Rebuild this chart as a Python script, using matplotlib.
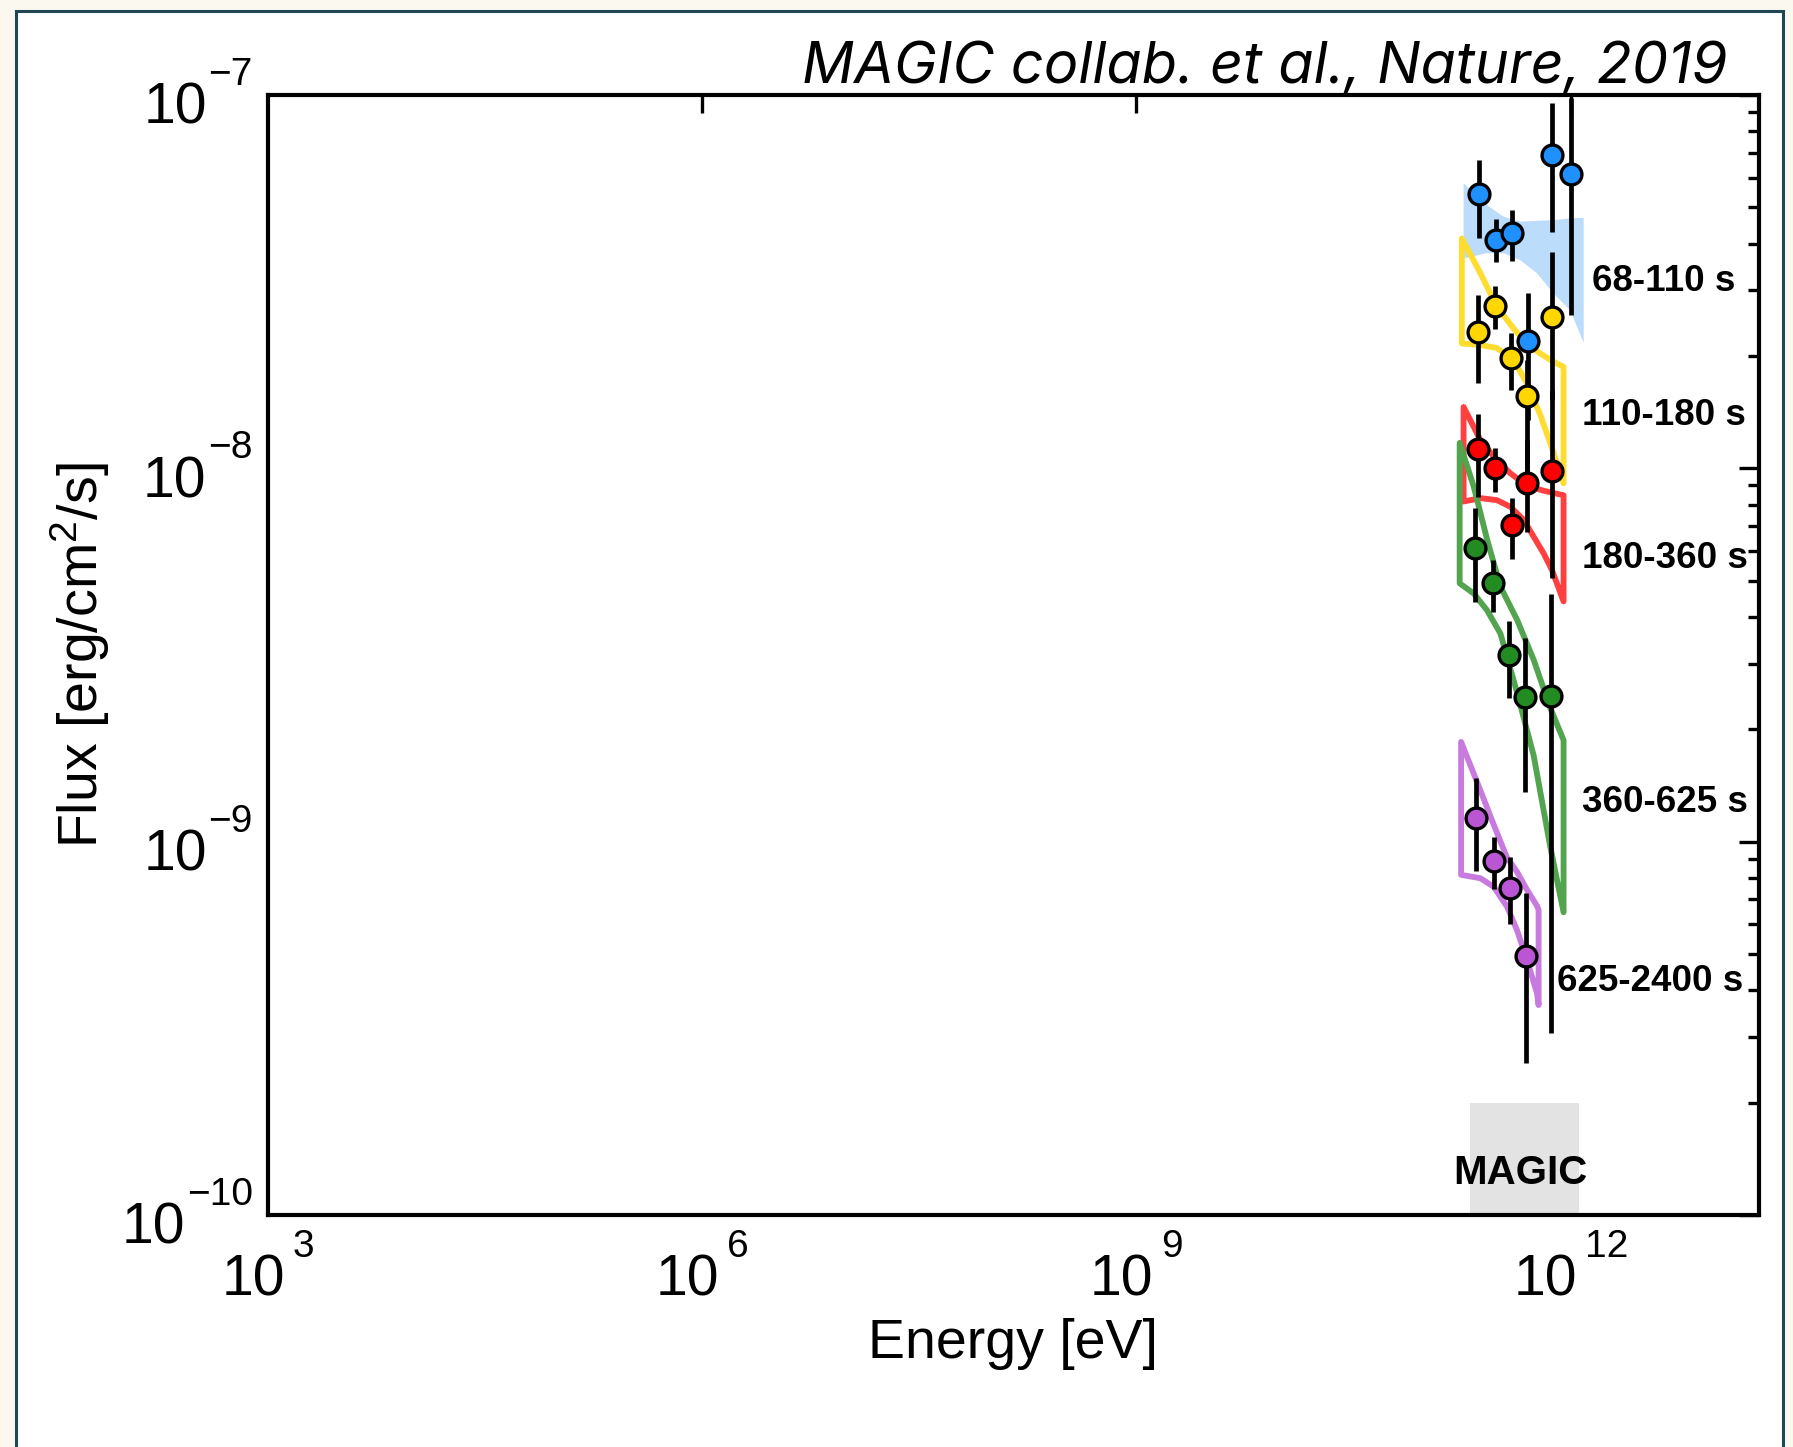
import numpy as np
import matplotlib.pyplot as plt
from matplotlib.patches import Rectangle
from matplotlib.transforms import offset_copy
from matplotlib.font_manager import FontProperties
from matplotlib.ticker import FixedLocator, LogLocator, NullFormatter

plt.rcParams['font.family'] = ['Liberation Sans', 'DejaVu Sans']
plt.rcParams['mathtext.fontset'] = 'custom'
plt.rcParams['mathtext.rm'] = 'Liberation Sans'
plt.rcParams['mathtext.it'] = 'Liberation Sans:italic'

# time bins after the burst
labels = ['68-110 s', '110-180 s', '180-360 s', '360-625 s', '625-2400 s']
point_colors = ['#1e90ff', '#ffd700', '#ff0000', '#228b22', '#ba55d3']
band_colors = ['#bbdcfa', '#ffdc30', '#ff4040', '#52a44e', '#c87ade']

# MAGIC flux points: energy [eV], flux [erg/cm2/s], error bar ends
E_68 = [2.33e11, 3.03e11, 3.93e11, 5.05e11, 7.46e11, 1.01e12]
F_68 = [5.42e-8, 4.10e-8, 4.27e-8, 2.19e-8, 6.90e-8, 6.15e-8]
F_68_hi = [6.70e-8, 4.65e-8, 4.92e-8, 2.94e-8, 9.51e-8, 9.82e-8]
F_68_lo = [4.13e-8, 3.56e-8, 3.60e-8, 1.35e-8, 4.29e-8, 2.58e-8]

E_110 = [2.28e11, 2.99e11, 3.86e11, 4.99e11, 7.41e11]
F_110 = [2.32e-8, 2.72e-8, 1.97e-8, 1.56e-8, 2.55e-8]
F_110_hi = [2.92e-8, 3.08e-8, 2.30e-8, 1.95e-8, 3.80e-8]
F_110_lo = [1.69e-8, 2.36e-8, 1.62e-8, 9.31e-9, 1.52e-8]

E_180 = [2.29e11, 3.00e11, 3.93e11, 4.99e11, 7.41e11]
F_180 = [1.13e-8, 1.00e-8, 7.05e-9, 9.14e-9, 9.86e-9]
F_180_hi = [1.40e-8, 1.135e-8, 8.34e-9, 1.19e-8, 1.62e-8]
F_180_lo = [8.39e-9, 8.65e-9, 5.71e-9, 6.76e-9, 5.08e-9]

E_360 = [2.17e11, 2.90e11, 3.72e11, 4.86e11, 7.30e11]
F_360 = [6.11e-9, 4.92e-9, 3.16e-9, 2.44e-9, 2.46e-9]
F_360_hi = [7.82e-9, 5.68e-9, 3.91e-9, 3.52e-9, 4.62e-9]
F_360_lo = [4.38e-9, 4.13e-9, 2.42e-9, 1.36e-9, 3.07e-10]

E_625 = [2.23e11, 2.97e11, 3.83e11, 4.91e11]
F_625 = [1.16e-9, 8.89e-10, 7.53e-10, 4.93e-10]
F_625_hi = [1.48e-9, 1.03e-9, 9.10e-10, 7.28e-10]
F_625_lo = [8.34e-10, 7.48e-10, 6.00e-10, 2.55e-10]

# spectral fit butterflies: energy, upper and lower envelope
band_E_68 = [1.82e11, 2.64e11, 3.44e11, 4.49e11, 5.85e11, 7.62e11, 9.93e11, 1.23e12]
band_hi_68 = [5.80e-8, 5.07e-8, 4.72e-8, 4.58e-8, 4.60e-8, 4.62e-8, 4.67e-8, 4.69e-8]
band_lo_68 = [3.65e-8, 3.77e-8, 3.77e-8, 3.61e-8, 3.33e-8, 2.94e-8, 2.65e-8, 2.17e-8]

band_E_110 = [1.77e11, 2.38e11, 3.09e11, 4.03e11, 4.98e11, 6.17e11, 7.62e11, 8.93e11]
band_hi_110 = [4.13e-8, 3.33e-8, 2.71e-8, 2.37e-8, 2.16e-8, 2.03e-8, 1.93e-8, 1.87e-8]
band_lo_110 = [2.16e-8, 2.14e-8, 2.10e-8, 1.95e-8, 1.69e-8, 1.39e-8, 1.10e-8, 9.12e-9]

band_E_180 = [1.82e11, 2.38e11, 3.09e11, 3.83e11, 4.73e11, 5.55e11, 6.50e11, 7.41e11, 8.93e11]
band_hi_180 = [1.46e-8, 1.19e-8, 1.05e-8, 9.70e-9, 9.12e-9, 8.87e-9, 8.71e-9, 8.61e-9, 8.47e-9]
band_lo_180 = [8.15e-9, 8.32e-9, 8.22e-9, 7.89e-9, 7.28e-9, 6.56e-9, 5.92e-9, 5.35e-9, 4.40e-9]

band_E_360 = [1.71e11, 2.14e11, 2.64e11, 3.27e11, 4.26e11, 5.55e11, 7.23e11, 8.93e11]
band_hi_360 = [1.17e-8, 8.93e-9, 6.47e-9, 4.82e-9, 3.93e-9, 3.07e-9, 2.28e-9, 1.87e-9]
band_lo_360 = [4.92e-9, 4.62e-9, 4.17e-9, 3.61e-9, 2.51e-9, 1.70e-9, 9.68e-10, 6.47e-10]

band_E_625 = [1.75e11, 2.38e11, 2.94e11, 3.63e11, 4.26e11, 4.99e11, 5.85e11, 6.00e11]
band_hi_625 = [1.85e-9, 1.37e-9, 1.11e-9, 9.06e-10, 8.30e-10, 7.43e-10, 6.73e-10, 6.56e-10]
band_lo_625 = [8.15e-10, 7.98e-10, 7.57e-10, 6.70e-10, 5.79e-10, 4.82e-10, 3.93e-10, 3.65e-10]

# MAGIC energy range box
magic_E = [2.0e11, 1.15e12]
magic_F = [1.0e-10, 2.0e-10]

x_exps = [3, 6, 9, 12]
y_exps = [-7, -8, -9, -10]

points = [(E_68, F_68, F_68_hi, F_68_lo), (E_110, F_110, F_110_hi, F_110_lo),
          (E_180, F_180, F_180_hi, F_180_lo), (E_360, F_360, F_360_hi, F_360_lo),
          (E_625, F_625, F_625_hi, F_625_lo)]
bands = [(band_E_68, band_hi_68, band_lo_68), (band_E_110, band_hi_110, band_lo_110),
         (band_E_180, band_hi_180, band_lo_180), (band_E_360, band_hi_360, band_lo_360),
         (band_E_625, band_hi_625, band_lo_625)]
label_pos = [(1.40e12, 2.99e-8), (1.19e12, 1.31e-8), (1.19e12, 5.40e-9),
             (1.19e12, 1.20e-9), (8.04e11, 3.99e-10)]

W, H = 1793, 1447
fig = plt.figure(figsize=(W / 100, H / 100), dpi=100)
fig.patch.set_facecolor('#fbf8f0')
fig.patches.append(Rectangle((16 / W, -0.05), (1783 - 16) / W, 1.05 - 11 / H,
                             transform=fig.transFigure, facecolor='white',
                             edgecolor='#1f4852', linewidth=2.2, zorder=-10))

ax = fig.add_axes([268 / W, 1 - 1215 / H, (1759 - 268) / W, (1215 - 95) / H])
ax.set_facecolor('none')
ax.set_xscale('log')
ax.set_yscale('log')
ax.set_xlim(1e3, 2e13)
ax.set_ylim(1e-10, 1e-7)
for s in ax.spines.values():
    s.set_linewidth(3)

ax.fill_between(magic_E, magic_F[0], magic_F[1], color='#e3e3e3', lw=0, zorder=1)
ax.text(4.48e11, 1.21e-10, 'MAGIC', fontsize=29, fontweight='bold',
        ha='center', va='baseline', zorder=2)

# butterflies
for i, (be, bh, bl) in enumerate(bands):
    xs = list(be) + list(be[::-1])
    ys = list(bh) + list(bl[::-1])
    if i == 0:
        ax.fill(xs, ys, facecolor=band_colors[i], edgecolor='none', zorder=2)
    else:
        ax.fill(xs, ys, fill=False, edgecolor=band_colors[i], linewidth=4.2,
                joinstyle='round', zorder=3)

# flux points
for i, (e, f, fh, fl) in enumerate(points):
    f = np.array(f)
    yerr = [f - np.array(fl), np.array(fh) - f]
    ax.errorbar(e, f, yerr=yerr, fmt='o', ms=15, mfc=point_colors[i], mec='k',
                mew=2.4, ecolor='k', elinewidth=3.4, capsize=0, zorder=5 + i)

for lab, (lx, ly) in zip(labels, label_pos):
    ax.text(lx, ly, lab, fontsize=26.5, fontweight='bold', ha='left', va='baseline')

# ticks: top and right inward, labels drawn by hand
ax.xaxis.set_major_locator(FixedLocator([1e6, 1e9, 1e12]))
ax.xaxis.set_minor_locator(FixedLocator([1e12]))
ax.xaxis.set_minor_formatter(NullFormatter())
ax.tick_params(axis='x', which='major', direction='in', top=True, bottom=False,
               length=13, width=2.4, labelbottom=False)
ax.tick_params(axis='x', which='minor', direction='in', top=False, bottom=True,
               length=13, width=2.4, labelbottom=False)
ax.yaxis.set_major_locator(LogLocator(base=10, numticks=10))
ax.yaxis.set_minor_locator(LogLocator(base=10, subs=np.arange(2, 10), numticks=20))
ax.yaxis.set_minor_formatter(NullFormatter())
ax.tick_params(axis='y', which='major', direction='in', left=False, right=True,
               length=14.5, width=2.4, labelleft=False)
ax.tick_params(axis='y', which='minor', direction='in', left=False, right=True,
               length=8, width=2.4, labelleft=False)

fig.canvas.draw()
r = fig.canvas.get_renderer()
fp_base = FontProperties(family='Liberation Sans', size=41)
fp_exp = FontProperties(family='Liberation Sans', size=28)
w_base = r.get_text_width_height_descent('10', fp_base, False)[0]

for e in x_exps:
    s = str(e)
    w_exp = r.get_text_width_height_descent(s, fp_exp, False)[0]
    left = -(w_base + w_exp + 8) / 2
    tb = offset_copy(ax.get_xaxis_transform(), fig=fig, x=left, y=-80, units='dots')
    te = offset_copy(ax.get_xaxis_transform(), fig=fig, x=left + w_base + 8, y=-42, units='dots')
    ax.text(10.0 ** e, 0, '10', fontproperties=fp_base, transform=tb,
            ha='left', va='baseline', clip_on=False)
    ax.text(10.0 ** e, 0, s, fontproperties=fp_exp, transform=te,
            ha='left', va='baseline', clip_on=False)

for e in y_exps:
    s = '\u2212' + str(-e)
    w_exp = r.get_text_width_height_descent(s, fp_exp, False)[0]
    te = offset_copy(ax.get_yaxis_transform(), fig=fig, x=-15, y=10, units='dots')
    tb = offset_copy(ax.get_yaxis_transform(), fig=fig, x=-17 - w_exp, y=-29, units='dots')
    ax.text(0, 10.0 ** e, s, fontproperties=fp_exp, transform=te,
            ha='right', va='baseline', clip_on=False)
    ax.text(0, 10.0 ** e, '10', fontproperties=fp_base, transform=tb,
            ha='right', va='baseline', clip_on=False)

fig.text(1013 / W, 1 - 1358 / H, 'Energy [eV]', fontsize=40, ha='center', va='baseline')
fig.text(80 / W, 1 - 655 / H, 'Flux [erg/cm$^2$/s]', fontsize=40, rotation=90,
         ha='center', va='center')
fig.text(1727 / W, 1 - 83 / H, 'MAGIC collab. et al., Nature, 2019', fontsize=41.5,
         family=['Inter', 'DejaVu Sans'], style='italic', ha='right', va='baseline')

fig.savefig('out.png', dpi=100)
